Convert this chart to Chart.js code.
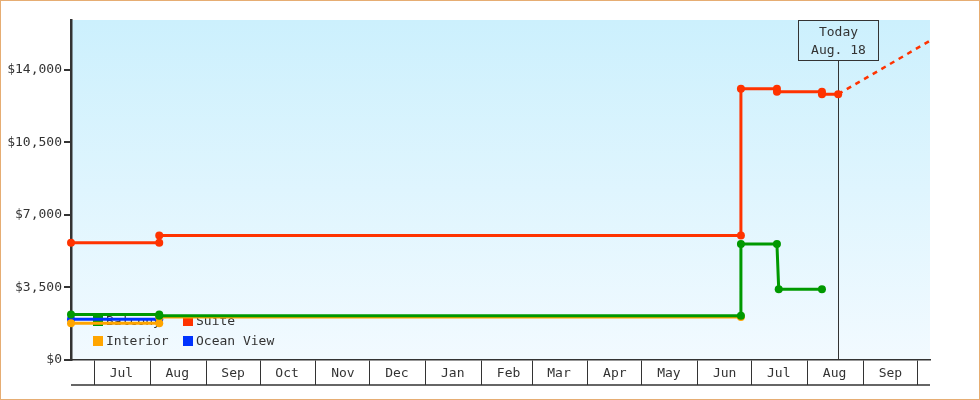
<!DOCTYPE html>
<html>
<head>
<meta charset="utf-8">
<script src="https://cdn.jsdelivr.net/npm/chart.js@4/dist/chart.umd.min.js"></script>
<style>
    body { margin: 0; background: #fff; }
    #wrap { width: 980px; height: 400px; }
</style>
</head>
<body>
<div id="wrap"><canvas id="fares"></canvas></div>
<script>
// Cabin fare history (one point per price change)
const balconyDates = ['2016-06-18', '2016-08-06', '2016-08-06', '2017-06-25', '2017-06-25', '2017-07-15', '2017-07-16', '2017-08-09'];
const balconyPrices = [2200, 2200, 2140, 2140, 5600, 5600, 3410, 3410];

const suiteDates = ['2016-06-18', '2016-08-06', '2016-08-06', '2017-06-25', '2017-06-25', '2017-07-15', '2017-07-15', '2017-08-09', '2017-08-09', '2017-08-18'];
const suitePrices = [5650, 5650, 6000, 6000, 13080, 13080, 12940, 12940, 12820, 12820];

const interiorDates = ['2016-06-18', '2016-08-06', '2016-08-06', '2017-06-25'];
const interiorPrices = [1770, 1770, 2080, 2080];

const oceanDates = ['2016-06-18', '2016-08-06'];
const oceanPrices = [1970, 1970];

// projected suite price after today
const projectionDates = ['2017-08-18', '2017-10-08'];
const projectionPrices = [12820, 15400];

const todayDate = '2017-08-18';
const todayLabel = ['Today', 'Aug. 18'];

const xMinDate = '2016-06-18';
const xMaxDate = '2017-10-08';
const monthDates = ['2016-07-01', '2016-08-01', '2016-09-01', '2016-10-01', '2016-11-01', '2016-12-01',
    '2017-01-01', '2017-02-01', '2017-03-01', '2017-04-01', '2017-05-01', '2017-06-01',
    '2017-07-01', '2017-08-01', '2017-09-01', '2017-10-01'];
const monthLabels = ['Jul', 'Aug', 'Sep', 'Oct', 'Nov', 'Dec', 'Jan', 'Feb', 'Mar', 'Apr', 'May', 'Jun', 'Jul', 'Aug', 'Sep', ''];

const yTicks = [0, 3500, 7000, 10500, 14000];
const yMax = 16400;

const seriesNames = ['Balcony', 'Suite', 'Interior', 'Ocean View'];
const seriesColors = ['#009900', '#ff3300', '#ffa500', '#0033ff'];

const FONT = '"DejaVu Sans Mono", "Liberation Mono", monospace';
const DAY = 86400000;
const toDay = s => Date.parse(s) / DAY;
const toPoints = (dates, prices) => dates.map((d, i) => ({ x: toDay(d), y: prices[i] }));

const seriesData = [
    toPoints(balconyDates, balconyPrices),
    toPoints(suiteDates, suitePrices),
    toPoints(interiorDates, interiorPrices),
    toPoints(oceanDates, oceanPrices)
];

const datasets = seriesNames.map((name, i) => ({
    label: name,
    data: seriesData[i],
    borderColor: seriesColors[i],
    backgroundColor: seriesColors[i],
    borderWidth: 3,
    pointRadius: 4,
    pointHoverRadius: 4,
    pointBorderWidth: 0,
    tension: 0,
    clip: false
}));

datasets.push({
    label: 'projection',
    data: toPoints(projectionDates, projectionPrices),
    borderColor: '#ff3300',
    borderWidth: 2.5,
    borderDash: [5, 5],
    pointRadius: 0,
    tension: 0
});

// background gradient, in-plot legend, today marker, frame
const decorations = {
    id: 'decorations',
    beforeDraw(chart) {
        const { ctx, chartArea: a } = chart;
        const g = ctx.createLinearGradient(0, a.top, 0, a.bottom);
        g.addColorStop(0, '#ccf0fd');
        g.addColorStop(1, '#f2faff');
        ctx.save();
        ctx.fillStyle = g;
        ctx.fillRect(a.left, a.top, a.right - a.left, a.bottom - a.top);
        ctx.restore();
    },
    beforeDatasetsDraw(chart) {
        const { ctx, chartArea: a } = chart;
        ctx.save();
        ctx.font = '13px ' + FONT;
        ctx.textBaseline = 'middle';
        seriesNames.forEach((name, i) => {
            const x = a.left + 22 + (i % 2) * 90;
            const y = 321 + Math.floor(i / 2) * 20;
            ctx.fillStyle = seriesColors[i];
            ctx.fillRect(x, y - 5, 10, 10);
            ctx.fillStyle = '#333';
            ctx.fillText(name, x + 13, y + 1);
        });

        // today marker
        const tx = Math.round(chart.scales.x.getPixelForValue(toDay(todayDate))) + 0.5;
        const boxW = 80, boxH = 40;
        ctx.strokeStyle = '#333';
        ctx.lineWidth = 1;
        ctx.beginPath();
        ctx.moveTo(tx, a.top + boxH);
        ctx.lineTo(tx, a.bottom);
        ctx.stroke();
        ctx.strokeRect(tx - boxW / 2, a.top + 0.5, boxW, boxH);
        ctx.textAlign = 'center';
        ctx.fillStyle = '#333';
        ctx.fillText(todayLabel[0], tx, a.top + 13);
        ctx.fillText(todayLabel[1], tx, a.top + 31);
        ctx.restore();
    },
    afterDraw(chart) {
        const { ctx, chartArea: a } = chart;
        ctx.save();
        ctx.strokeStyle = '#333';
        ctx.lineWidth = 1.5;
        ctx.beginPath();
        ctx.moveTo(a.left, a.bottom + 25);
        ctx.lineTo(a.right, a.bottom + 25);
        ctx.stroke();
        ctx.strokeStyle = '#e6ad73';
        ctx.lineWidth = 1;
        ctx.strokeRect(0.5, 0.5, chart.width - 1, chart.height - 1);
        ctx.restore();
    }
};

new Chart(document.getElementById('fares'), {
    type: 'line',
    data: { datasets },
    plugins: [decorations],
    options: {
        responsive: true,
        maintainAspectRatio: false,
        animation: false,
        events: [],
        layout: { padding: { top: 20, right: 50, bottom: 0, left: 0 } },
        plugins: {
            legend: { display: false },
            tooltip: { enabled: false }
        },
        scales: {
            x: {
                type: 'linear',
                min: toDay(xMinDate),
                max: toDay(xMaxDate),
                afterBuildTicks: scale => {
                    scale.ticks = monthDates.map(d => ({ value: toDay(d) }));
                },
                afterFit: scale => { scale.height = 40; },
                ticks: {
                    autoSkip: false,
                    maxRotation: 0,
                    labelOffset: 27,
                    padding: -19,
                    color: '#333',
                    font: { family: FONT, size: 13 },
                    callback: (value, index) => monthLabels[index]
                },
                grid: {
                    drawOnChartArea: false,
                    tickLength: 25,
                    color: '#333',
                    lineWidth: 1
                },
                border: { display: true, color: '#333', width: 1.5 }
            },
            y: {
                min: 0,
                max: yMax,
                afterBuildTicks: scale => {
                    scale.ticks = yTicks.map(v => ({ value: v }));
                },
                afterFit: scale => { scale.width = 71; },
                ticks: {
                    padding: 2,
                    color: '#333',
                    font: { family: FONT, size: 13 },
                    callback: v => '$' + v.toLocaleString('en-US')
                },
                grid: {
                    drawOnChartArea: false,
                    tickLength: 7,
                    color: '#333',
                    lineWidth: 2
                },
                border: { display: true, color: '#333', width: 2.5 }
            }
        }
    }
});
</script>
</body>
</html>
